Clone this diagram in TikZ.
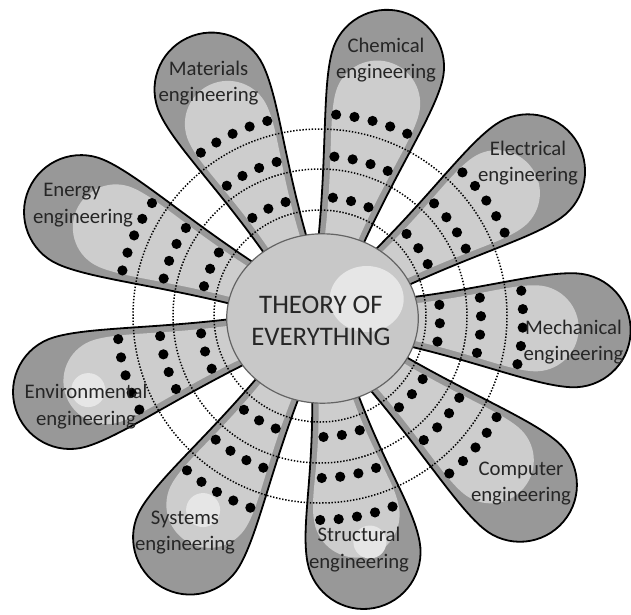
\documentclass[tikz,border=0pt]{standalone}
\usepackage{fontspec}
\setmainfont{Carlito}
\usepackage{tikz}
\usetikzlibrary{positioning}
\definecolor{petaldark}{RGB}{152,152,152}
\definecolor{petallight}{RGB}{205,205,205}
\definecolor{shine}{RGB}{230,230,230}
\definecolor{hubfill}{RGB}{200,200,200}
\definecolor{hubline}{RGB}{100,100,100}
\definecolor{ink}{RGB}{38,38,38}
\tikzset{
  petal/.style={fill=petaldark,draw=black,line width=1.8pt},
  petalin/.style={fill=petallight},
  shinespot/.style={fill=shine},
  ring/.style={draw=black,line width=1.5pt,dash pattern=on 1.4pt off 1.7pt},
  seed/.style={fill=black},
  lbl/.style={align=center,text=ink,inner sep=0pt,font=\fontsize{20.75}{26.5}\selectfont},
  hubtext/.style={align=center,text=ink,inner sep=0pt,font=\fontsize{26.8}{32}\selectfont},
}
% one petal: axis angle, reach from the centre
\newcommand{\petal}[2]{%
  \begin{scope}[rotate=#1]
    \pgfmathsetmacro{\tipc}{#2-57}
    \draw[petal] (50,-18) .. controls (150,-32) and (\tipc-40,-57) .. (\tipc,-57)
      arc[start angle=-90,end angle=90,radius=57]
      .. controls (\tipc-40,57) and (150,32) .. (50,18) -- cycle;
    \pgfmathsetmacro{\tipi}{#2-95}
    \fill[petalin] (46,-12) .. controls (140,-22) and (\tipi-32,-43) .. (\tipi,-43)
      arc[start angle=-90,end angle=90,radius=43]
      .. controls (\tipi-32,43) and (140,22) .. (46,12) -- cycle;
  \end{scope}}
% three rows of seeds on a petal
\newcommand{\seeds}[1]{%
  \foreach \r/\n in {120/3,161/4,203/5}{
    \pgfmathsetmacro{\st}{18.5/\r*57.296}
    \foreach \i in {1,...,\n}
      \fill[seed] ({#1+(\i-(\n+1)/2)*\st}:\r) circle[radius=5.1];
  }}

\begin{document}
\begin{tikzpicture}[x=1pt,y=1pt]
  \useasboundingbox (-320,-297) rectangle (311,317);
  \foreach \a/\l in {75/316,35/311,-3/311,-40/318,-79.5/296,-120.5/313,-163.3/318,156.3/318,115.5/309}
    \petal{\a}{\l};
  \fill[shinespot] (-121.2:225.7) circle[radius=17];
  \fill[shinespot] (-162.5:243) circle[radius=17];
  \fill[shinespot] (-77.5:230.5) circle[radius=16.5];
  \foreach \rr in {106,147,187}
    \draw[ring] (0,1) circle[radius=\rr];
  \foreach \a in {75,35,-3,-40,-79.5,-120.5,-163.3,156.3,115.5}
    \seeds{\a};
  % centre
  \fill[hubfill] (2.5,-1.5) ellipse[x radius=95.8,y radius=84.7];
  \fill[shine] (46.7,18) ellipse[x radius=37,y radius=33];
  \draw[hubline,line width=1.2pt] (2.5,-1.5) ellipse[x radius=95.8,y radius=84.7];
  \node[hubtext] (toe) at (1,-4.3) {THEORY OF\\EVERYTHING};
  % labels
  \node[lbl] (chem) at (66,257) {Chemical\\engineering};
  \node[lbl] (mat) at (-111.5,233.7) {Materials\\engineering};
  \node[lbl] (elec) at (208,153.7) {Electrical\\engineering};
  \node[lbl] (energy) at (-237,112) {Energy\hspace*{22pt}\\engineering};
  \node[lbl] (mech) at (253.5,-25.3) {Mechanical\\engineering};
  \node[lbl] (env) at (-234,-89.6) {Environmental\\engineering};
  \node[lbl] (comp) at (201,-166.3) {Computer\\engineering};
  \node[lbl] (sys) at (-135,-215.3) {Systems\\engineering};
  \node[lbl] (struct) at (39,-232.6) {Structural\\engineering};
\end{tikzpicture}
\end{document}
